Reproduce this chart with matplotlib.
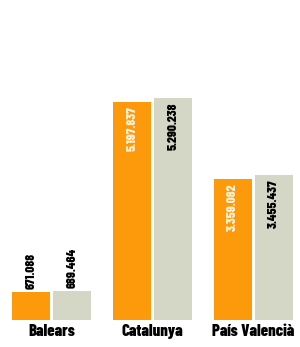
import matplotlib.pyplot as plt
import numpy as np

regions = ['Balears', 'Catalunya', 'País Valencià']
serie_a = [671088, 5197837, 3359082]
serie_b = [689464, 5290238, 3455437]
labels_a = ['671.088', '5.197.837', '3.359.082']
labels_b = ['689.464', '5.290.238', '3.455.437']

orange = '#fc9a0c'
grey = '#d5d7c6'
narrow = ['Barlow Condensed', 'DejaVu Sans']

fig = plt.figure(figsize=(3.0, 3.47), dpi=100)
ax = fig.add_axes([0, 27 / 347, 1, 300 / 347])

x = np.arange(len(regions))
w = 0.376
off = 0.203
ax.bar(x - off, serie_a, w, color=orange)
ax.bar(x + off, serie_b, w, color=grey)

ymax = 7150000
ax.set_ylim(0, ymax)
ax.set_xlim(-0.51, 2.465)
inside_min = 1500000
for i in range(len(regions)):
    for dx, val, lab, col in [(-off, serie_a[i], labels_a[i], '#fff3dc'),
                              (off, serie_b[i], labels_b[i], 'black')]:
        if val > inside_min:
            ax.text(x[i] + dx, val - 0.015 * ymax, lab, rotation=90, ha='center', va='top',
                    fontsize=9.5, fontweight=800, color=col, family=narrow)
        else:
            ax.text(x[i] + dx, val + 0.01 * ymax, lab, rotation=90, ha='center', va='bottom',
                    fontsize=9.5, fontweight=800, color='black', family=narrow)

ax.set_xticks(x)
ax.set_xticklabels(regions, fontsize=12, fontweight=800, family=narrow)
ax.tick_params(axis='x', length=0, pad=3)
ax.set_yticks([])
for s in ax.spines.values():
    s.set_visible(False)

fig.savefig('out.png', dpi=100, facecolor='white')
